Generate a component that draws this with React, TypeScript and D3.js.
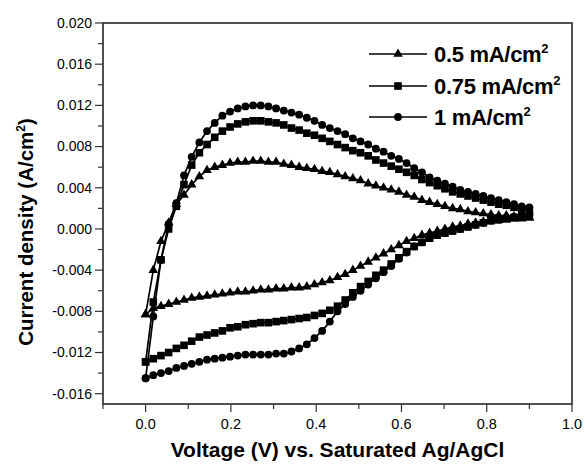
import React from "react";
import * as d3 from "d3";

const voltage = [0.000,0.018,0.036,0.054,0.072,0.090,0.108,0.126,0.144,0.162,0.180,0.198,0.216,0.234,0.252,0.270,0.288,0.306,0.324,0.342,0.360,0.378,0.396,0.414,0.432,0.450,0.468,0.486,0.504,0.522,0.540,0.558,0.576,0.594,0.612,0.630,0.648,0.666,0.684,0.702,0.720,0.738,0.756,0.774,0.792,0.810,0.828,0.846,0.864,0.882,0.900];

const tri05Forward = [-0.0083,-0.0040,-0.0012,0.0006,0.0024,0.0033,0.0043,0.0051,0.0057,0.0060,0.0062,0.0064,0.0065,0.0065,0.0066,0.0066,0.0065,0.0065,0.0063,0.0062,0.0060,0.0059,0.0058,0.0056,0.0055,0.0053,0.0051,0.0049,0.0047,0.0044,0.0042,0.0040,0.0038,0.0036,0.0033,0.0031,0.0028,0.0026,0.0024,0.0022,0.0020,0.0019,0.0017,0.0016,0.0015,0.0014,0.0013,0.0013,0.0012,0.0011,0.0011];
const tri05Reverse = [-0.0083,-0.0077,-0.0075,-0.0073,-0.0071,-0.0069,-0.0067,-0.0066,-0.0065,-0.0064,-0.0063,-0.0062,-0.0061,-0.0061,-0.0060,-0.0059,-0.0059,-0.0058,-0.0058,-0.0057,-0.0057,-0.0056,-0.0054,-0.0052,-0.0050,-0.0047,-0.0044,-0.0040,-0.0036,-0.0032,-0.0028,-0.0024,-0.0020,-0.0016,-0.0012,-0.0009,-0.0006,-0.0004,-0.0002,0.0000,0.0002,0.0003,0.0005,0.0006,0.0007,0.0008,0.0009,0.0009,0.0010,0.0010,0.0011];

const sq075Forward = [-0.0129,-0.0071,-0.0030,0.0000,0.0022,0.0043,0.0062,0.0074,0.0082,0.0089,0.0095,0.0099,0.0102,0.0104,0.0105,0.0105,0.0104,0.0103,0.0101,0.0098,0.0096,0.0093,0.0091,0.0088,0.0085,0.0082,0.0079,0.0076,0.0074,0.0071,0.0067,0.0064,0.0061,0.0058,0.0055,0.0052,0.0048,0.0045,0.0042,0.0039,0.0036,0.0034,0.0032,0.0030,0.0028,0.0026,0.0024,0.0023,0.0021,0.0019,0.0018];
const sq075Reverse = [-0.0129,-0.0126,-0.0123,-0.0120,-0.0116,-0.0113,-0.0109,-0.0105,-0.0103,-0.0101,-0.0099,-0.0096,-0.0095,-0.0093,-0.0092,-0.0091,-0.0091,-0.0090,-0.0089,-0.0088,-0.0087,-0.0086,-0.0084,-0.0082,-0.0079,-0.0075,-0.0069,-0.0062,-0.0056,-0.0051,-0.0045,-0.0040,-0.0034,-0.0028,-0.0022,-0.0017,-0.0013,-0.0009,-0.0006,-0.0004,-0.0002,0.0000,0.0002,0.0004,0.0006,0.0008,0.0009,0.0010,0.0011,0.0012,0.0013];

const ci1Forward = [-0.0145,-0.0085,-0.0030,0.0005,0.0025,0.0052,0.0070,0.0084,0.0095,0.0103,0.0110,0.0114,0.0117,0.0119,0.0120,0.0120,0.0119,0.0117,0.0115,0.0113,0.0111,0.0108,0.0105,0.0101,0.0098,0.0095,0.0092,0.0088,0.0085,0.0082,0.0078,0.0075,0.0071,0.0068,0.0064,0.0059,0.0055,0.0050,0.0047,0.0044,0.0041,0.0038,0.0036,0.0034,0.0032,0.0030,0.0028,0.0026,0.0024,0.0022,0.0021];
const ci1Reverse = [-0.0145,-0.0142,-0.0140,-0.0138,-0.0135,-0.0133,-0.0131,-0.0129,-0.0127,-0.0126,-0.0125,-0.0124,-0.0123,-0.0122,-0.0122,-0.0122,-0.0122,-0.0121,-0.0121,-0.0119,-0.0116,-0.0112,-0.0106,-0.0099,-0.0090,-0.0080,-0.0073,-0.0066,-0.0060,-0.0054,-0.0048,-0.0042,-0.0036,-0.0029,-0.0023,-0.0017,-0.0013,-0.0009,-0.0006,-0.0004,-0.0002,0.0000,0.0002,0.0004,0.0006,0.0008,0.0009,0.0011,0.0012,0.0013,0.0014];

const seriesLabels = ["0.5 mA/cm", "0.75 mA/cm", "1 mA/cm"];
const seriesMarkers = ["triangle", "square", "circle"];

const yMajorTicks = [-0.016,-0.012,-0.008,-0.004,0.000,0.004,0.008,0.012,0.016,0.020];
const yMinorTicks = [-0.014,-0.010,-0.006,-0.002,0.002,0.006,0.010,0.014,0.018];
const xMajorTicks = [0.0,0.2,0.4,0.6,0.8,1.0];
const xMinorTicks = [-0.1,0.1,0.3,0.5,0.7,0.9];

const W = 585, H = 464;
const left = 103, right = 572, top = 23, bottom = 404;
const FONT = "'Liberation Sans', Arial, Helvetica, sans-serif";

const x = d3.scaleLinear().domain([-0.1, 1.0]).range([left, right]);
const y = d3.scaleLinear().domain([-0.017, 0.020]).range([bottom, top]);

function buildPoints(fwd: number[], rev: number[]) {
  const pts: [number, number][] = [];
  voltage.forEach((v, i) => pts.push([v, fwd[i]]));
  for (let i = voltage.length - 1; i >= 0; i--) pts.push([voltage[i], rev[i]]);
  return pts;
}

const seriesData = [
  buildPoints(tri05Forward, tri05Reverse),
  buildPoints(sq075Forward, sq075Reverse),
  buildPoints(ci1Forward, ci1Reverse),
];

const line = d3.line<[number, number]>().x(d => x(d[0])).y(d => y(d[1]));

function Marker({ type, cx, cy }: { type: string; cx: number; cy: number }) {
  if (type === "circle") return <circle cx={cx} cy={cy} r={3.9} fill="#000" />;
  if (type === "square") return <rect x={cx - 3.8} y={cy - 3.8} width={7.6} height={7.6} fill="#000" />;
  const s = d3.symbol().type(d3.symbolTriangle).size(40)();
  return <path d={s || ""} transform={`translate(${cx},${cy})`} fill="#000" />;
}

const fmt = (v: number) => v.toFixed(3);
const fmtX = (v: number) => v.toFixed(1);

export default function App() {
  const legendY = [54, 86, 117];
  return (
    <svg width={W} height={H} style={{ position: "absolute", left: 0, top: 0, background: "#fff" }} fontFamily={FONT}>
      <rect x={0} y={0} width={W} height={H} fill="#fff" />
      {seriesData.map((pts, si) => (
        <g key={si}>
          <path d={line(pts) || ""} fill="none" stroke="#000" strokeWidth={1.7} />
          {pts.map((p, i) => (
            <Marker key={i} type={seriesMarkers[si]} cx={x(p[0])} cy={y(p[1])} />
          ))}
        </g>
      ))}
      <rect x={left} y={top} width={right - left} height={bottom - top} fill="none" stroke="#333" strokeWidth={1.7} />
      {yMajorTicks.map(t => (
        <g key={"ym" + t}>
          <line x1={left - 8} x2={left} y1={y(t)} y2={y(t)} stroke="#333" strokeWidth={1.2} />
          <text x={left - 11} y={y(t)} dy="0.35em" textAnchor="end" fontSize={14} fill="#000">{fmt(t)}</text>
        </g>
      ))}
      {yMinorTicks.map(t => (
        <line key={"yn" + t} x1={left - 5} x2={left} y1={y(t)} y2={y(t)} stroke="#333" strokeWidth={1.2} />
      ))}
      {xMajorTicks.map(t => (
        <g key={"xm" + t}>
          <line x1={x(t)} x2={x(t)} y1={bottom} y2={bottom + 8} stroke="#333" strokeWidth={1.2} />
          <text x={x(t)} y={bottom + 25} textAnchor="middle" fontSize={14.5} fill="#000">{fmtX(t)}</text>
        </g>
      ))}
      {xMinorTicks.map(t => (
        <line key={"xn" + t} x1={x(t)} x2={x(t)} y1={bottom} y2={bottom + 5} stroke="#333" strokeWidth={1.2} />
      ))}
      <text x={(left + right) / 2} y={457} textAnchor="middle" fontSize={21} fontWeight="bold" fill="#000">
        Voltage (V) vs. Saturated Ag/AgCl
      </text>
      <text transform={`translate(33,${232}) rotate(-90)`} textAnchor="middle" fontSize={20.5} fontWeight="bold" fill="#000">
        Current density (A/cm<tspan fontSize={12} dy={-8}>2</tspan><tspan dy={8}>)</tspan>
      </text>
      {seriesLabels.map((lab, i) => (
        <g key={"lg" + i}>
          <line x1={369} x2={427} y1={legendY[i]} y2={legendY[i]} stroke="#000" strokeWidth={1.7} />
          <Marker type={seriesMarkers[i]} cx={398} cy={legendY[i]} />
          <text x={434} y={legendY[i] + 8} fontSize={22} fontWeight="bold" fill="#000" letterSpacing={-0.3}>
            {lab}<tspan fontSize={13} dy={-9}>2</tspan>
          </text>
        </g>
      ))}
    </svg>
  );
}
